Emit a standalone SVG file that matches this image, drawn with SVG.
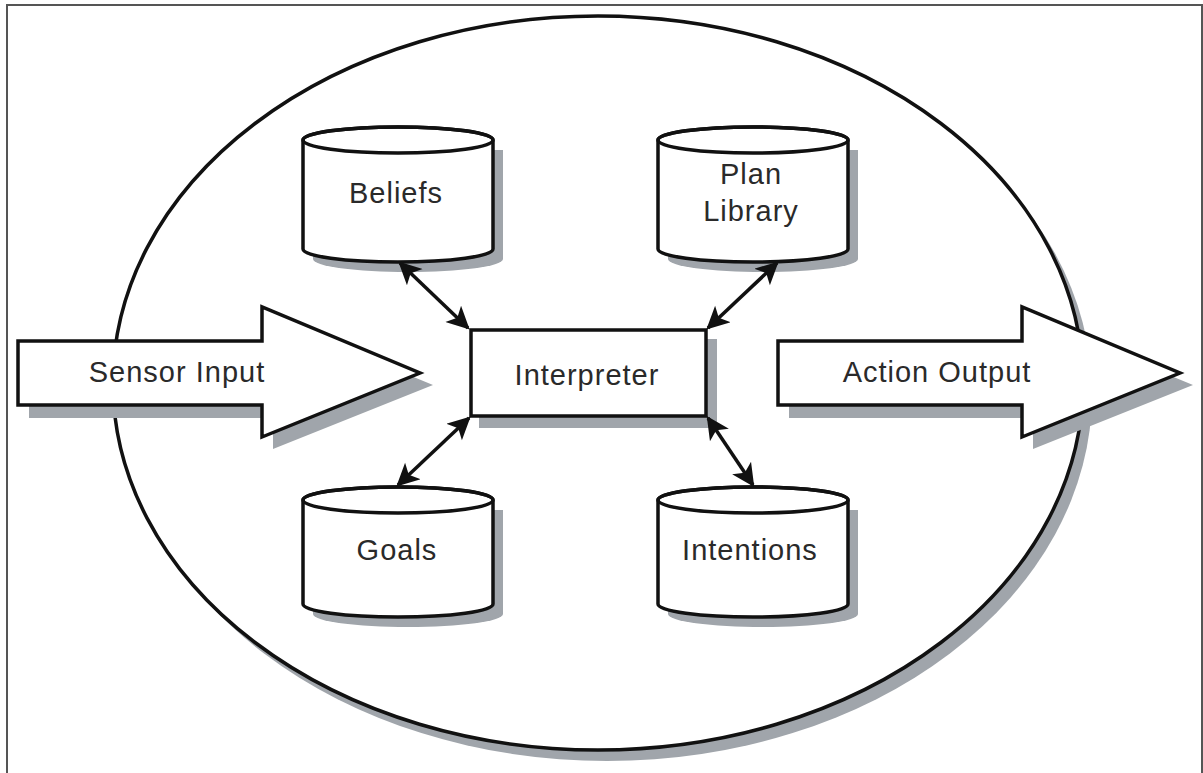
<svg xmlns="http://www.w3.org/2000/svg" width="1203" height="773" viewBox="0 0 1203 773">
<style>
.sh{fill:#a0a5ab;stroke:none}
.ln{fill:#fff;stroke:#111;stroke-width:3.5;stroke-linejoin:miter}
.cap{fill:none;stroke:#111;stroke-width:3.5}
.tx{font-family:"Liberation Sans",Arial,sans-serif;font-size:29px;fill:#2a2a2a;text-anchor:middle;letter-spacing:1px}
.cn{stroke:#111;stroke-width:3.5;fill:none;marker-start:url(#ah);marker-end:url(#ah)}
</style>
<defs>
<marker id="ah" viewBox="0 0 10 10" refX="9" refY="5" markerWidth="7" markerHeight="6.5" orient="auto-start-reverse" markerUnits="strokeWidth">
<path d="M0,0 L10,5 L0,10 L2.5,5 Z" fill="#111"/>
</marker>
</defs>
<rect width="1203" height="773" fill="#fff"/>
<path d="M7,773 L7,5 L1202,5 L1202,773" fill="none" stroke="#555" stroke-width="2"/>
<g id="agent">
<ellipse cx="607" cy="394" rx="485" ry="367" class="sh"/>
<ellipse cx="598" cy="383" rx="485" ry="367" class="ln" stroke-width="4"/>
</g>
<g id="beliefs">
<path class="sh" d="M313,150 L313,259 A95,13 0 0 0 503,259 L503,150 Z"/>
<path class="ln" d="M303,140 L303,249 A95,13 0 0 0 493,249 L493,140 A95,13 0 0 0 303,140 Z"/>
<ellipse class="cap" cx="398" cy="140" rx="95" ry="13"/>
<text class="tx" x="396" y="203">Beliefs</text>
</g>
<g id="plan-library">
<path class="sh" d="M668,150 L668,259 A95,13 0 0 0 858,259 L858,150 Z"/>
<path class="ln" d="M658,140 L658,249 A95,13 0 0 0 848,249 L848,140 A95,13 0 0 0 658,140 Z"/>
<ellipse class="cap" cx="753" cy="140" rx="95" ry="13"/>
<text class="tx" x="751" y="184">Plan</text>
<text class="tx" x="751" y="221">Library</text>
</g>
<g id="goals">
<path class="sh" d="M313,510 L313,614 A95,13 0 0 0 503,614 L503,510 Z"/>
<path class="ln" d="M303,500 L303,604 A95,13 0 0 0 493,604 L493,500 A95,13 0 0 0 303,500 Z"/>
<ellipse class="cap" cx="398" cy="500" rx="95" ry="13"/>
<text class="tx" x="397" y="560">Goals</text>
</g>
<g id="intentions">
<path class="sh" d="M668,510 L668,614 A95,13 0 0 0 858,614 L858,510 Z"/>
<path class="ln" d="M658,500 L658,604 A95,13 0 0 0 848,604 L848,500 A95,13 0 0 0 658,500 Z"/>
<ellipse class="cap" cx="753" cy="500" rx="95" ry="13"/>
<text class="tx" x="750" y="560">Intentions</text>
</g>
<g id="interpreter">
<rect class="sh" x="479" y="339" width="238" height="89"/>
<rect class="ln" x="471" y="330" width="235" height="86" stroke-width="3"/>
<text class="tx" x="587" y="385">Interpreter</text>
</g>
<g id="connectors">
<line class="cn" x1="400" y1="263" x2="468" y2="328"/>
<line class="cn" x1="777" y1="263" x2="708" y2="328"/>
<line class="cn" x1="469" y1="418" x2="398" y2="485"/>
<line class="cn" x1="708" y1="418" x2="753" y2="485"/>
</g>
<g id="sensor-input">
<path class="sh" d="M29,353 L273,353 L273,319 L433,385 L273,449 L273,418 L29,418 Z"/>
<path class="ln" d="M18,341 L262,341 L262,307 L420,373 L262,437 L262,405 L18,405 Z"/>
<text class="tx" x="177" y="382">Sensor Input</text>
</g>
<g id="action-output">
<path class="sh" d="M789,353 L1033,353 L1033,319 L1193,385 L1033,449 L1033,418 L789,418 Z"/>
<path class="ln" d="M778,341 L1022,341 L1022,307 L1180,373 L1022,437 L1022,405 L778,405 Z"/>
<text class="tx" x="937" y="382">Action Output</text>
</g>
</svg>
